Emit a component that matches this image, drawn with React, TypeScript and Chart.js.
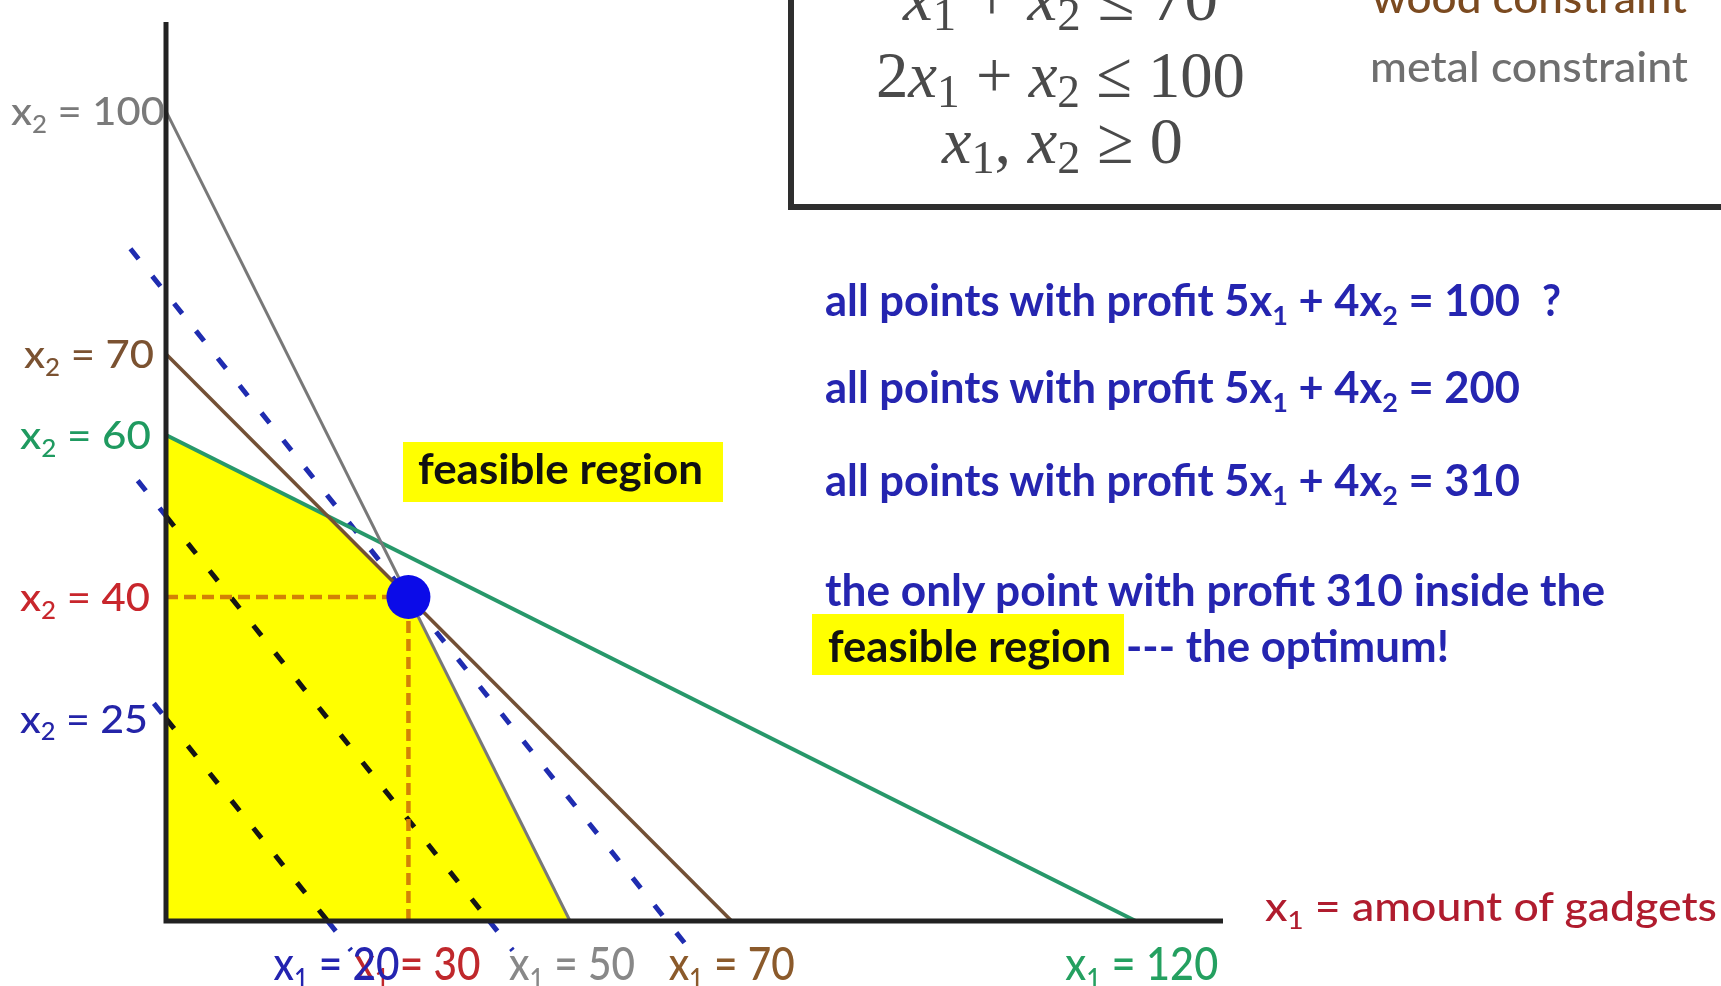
import React, { useEffect, useRef, useState } from "react";
import { Chart, registerables } from "chart.js";

Chart.register(...registerables);

const W = 1721;
const H = 986;

// ---- data (x1 = gadgets, x2) ----
const woodLine = [ { x: 0, y: 70 }, { x: 70, y: 0 } ];          // x1 + x2 <= 70
const metalLine = [ { x: 0, y: 100 }, { x: 50, y: 0 } ];        // 2x1 + x2 <= 100
const greenLine = [ { x: 0, y: 60 }, { x: 120, y: 0 } ];        // x1 + 2x2 <= 120
const feasibleTop = [ { x: 0, y: 60 }, { x: 20, y: 50 }, { x: 30, y: 40 }, { x: 50, y: 0 } ];
const optimum = [ { x: 30, y: 40 } ];
const profit100 = [ { x: -1.5, y: 26.875 }, { x: 0, y: 25 }, { x: 20, y: 0 }, { x: 22.9, y: -3.625 } ];
const profit200 = [ { x: -3.5, y: 54.375 }, { x: 0, y: 50 }, { x: 40, y: 0 }, { x: 42.9, y: -3.625 } ];
const profit310 = [ { x: -4.4, y: 83 }, { x: 64.4, y: -3 } ];
const optH = [ { x: 0, y: 40 }, { x: 30, y: 40 } ];
const optV = [ { x: 30, y: 0 }, { x: 30, y: 40 } ];

const yTickValues = [100, 70, 60, 40, 25];
const yTickColors = ["#7a7a7a", "#7b5231", "#1f9a60", "#c8262c", "#2424a8"];
const yTickRight = [165, 154, 151, 150, 148];
const yTickWidths = [154, 130, 131, 130, 128];

const xTickValues = [30, 50, 70, 120, 20];
const xTickColors = ["#c0282c", "#888888", "#8b5a2b", "#24a060", "#2424b0"];
const xTickOffsets = [9, 2, 0, 6, 9];
const xTickWidths = [126, 126, 126, 153, 126];

const X_MAX = 130.8;
const Y_MAX = 111.0;

const BLUE_TXT = "#2525b0";

type Seg = { t: string; sub?: boolean; it?: boolean };

function parse(s: string, math = false): Seg[] {
  const out: Seg[] = [];
  let buf = "";
  const flush = () => {
    if (!buf) return;
    if (math) {
      const parts = buf.match(/[a-z]+|[^a-z]+/g) || [];
      parts.forEach((p) => out.push({ t: p, it: /[a-z]/.test(p) }));
    } else out.push({ t: buf });
    buf = "";
  };
  for (let i = 0; i < s.length; i++) {
    if (s[i] === "_" && i + 1 < s.length) {
      flush();
      out.push({ t: s[i + 1], sub: true });
      i++;
    } else buf += s[i];
  }
  flush();
  return out;
}

function Txt(props: {
  x: number; y: number; size: number; width?: number; color: string; text: string;
  weight?: number; family?: string; anchor?: string; math?: boolean; subScale?: number; subDrop?: number;
}) {
  const { x, y, size, width, color, text, weight = 400, family = "Lato", anchor = "start", math = false,
    subScale = 0.62, subDrop = 0.2 } = props;
  const segs = parse(text, math);
  const drop = size * subDrop;
  let shifted = false;
  return (
    <text x={x} y={y} fontSize={size} fill={color} fontWeight={weight} fontFamily={family}
      textAnchor={anchor as any} textLength={width} lengthAdjust={width ? "spacingAndGlyphs" : undefined}
      style={{ whiteSpace: "pre" }}>
      {segs.map((s, i) => {
        if (s.sub) {
          shifted = true;
          return <tspan key={i} fontSize={size * subScale} dy={drop} fontStyle="normal">{s.t}</tspan>;
        }
        const dy = shifted ? -drop : undefined;
        shifted = false;
        return <tspan key={i} dy={dy} fontStyle={s.it ? "italic" : "normal"}>{s.t}</tspan>;
      })}
    </text>
  );
}

type Pos = { px: number[]; py: number[] };

export default function App() {
  const ref = useRef<HTMLCanvasElement>(null);
  const [pos, setPos] = useState<Pos | null>(null);

  useEffect(() => {
    document.body.style.margin = "0";
    const axesPlugin = {
      id: "axesLines",
      afterDatasetsDraw(chart: any) {
        const { ctx, chartArea } = chart;
        const x0 = chart.scales.x.getPixelForValue(0);
        const y0 = chart.scales.y.getPixelForValue(0);
        ctx.save();
        ctx.strokeStyle = "#222";
        ctx.lineWidth = 5;
        ctx.beginPath();
        ctx.moveTo(x0, chartArea.top);
        ctx.lineTo(x0, y0);
        ctx.lineTo(chartArea.right, y0);
        ctx.stroke();
        ctx.restore();
      },
    };
    const line = (data: any[], color: string, width: number, order: number, extra: any = {}) => ({
      data, borderColor: color, borderWidth: width, pointRadius: 0, pointHoverRadius: 0,
      fill: false, tension: 0, clip: false, order, ...extra,
    });
    const PROFIT_BLUE = "#1f2cb0";
    const PROFIT_IN = "#141414";
    const DASH = [13, 22];
    const chart = new Chart(ref.current as HTMLCanvasElement, {
      type: "line",
      data: {
        datasets: [
          {
            data: optimum, showLine: false, pointRadius: 22, pointHoverRadius: 22,
            backgroundColor: "#0b0be8", borderWidth: 0, clip: false, order: 0,
          } as any,
          line(optH, "#d38205", 4.5, 1, { borderDash: [12, 6] }),
          line(optV, "#d38205", 4.5, 1, { borderDash: [12, 6] }),
          line(metalLine, "#787878", 3, 2),
          line(woodLine, "#735035", 3.6, 3),
          line(greenLine, "#27986a", 4, 4),
          line(profit310, PROFIT_BLUE, 5, 5, { borderDash: DASH }),
          line(profit200, PROFIT_BLUE, 5, 6, {
            borderDash: DASH,
            segment: { borderColor: (c: any) => (c.p0DataIndex === 1 ? PROFIT_IN : PROFIT_BLUE) },
          }),
          line(profit100, PROFIT_BLUE, 5, 7, {
            borderDash: DASH,
            segment: { borderColor: (c: any) => (c.p0DataIndex === 1 ? PROFIT_IN : PROFIT_BLUE) },
          }),
          line(feasibleTop, "rgba(0,0,0,0)", 0, 10, { fill: "origin", backgroundColor: "#ffff00" }),
        ],
      },
      options: {
        animation: false,
        responsive: false,
        devicePixelRatio: 1,
        events: [],
        layout: { padding: { left: 166, top: 12, right: W - 1223, bottom: H - 921 } },
        plugins: { legend: { display: false }, tooltip: { enabled: false } },
        scales: {
          x: { type: "linear", min: 0, max: X_MAX, display: false },
          y: { type: "linear", min: 0, max: Y_MAX, display: false },
        },
      },
      plugins: [axesPlugin],
    } as any);
    setPos({
      px: xTickValues.map((v) => chart.scales.x.getPixelForValue(v)),
      py: yTickValues.map((v) => chart.scales.y.getPixelForValue(v)),
    });
    return () => chart.destroy();
  }, []);

  return (
    <div style={{ position: "fixed", left: 0, top: 0, width: W, height: H, background: "#fff", overflow: "hidden" }}>
      <canvas ref={ref} width={W} height={H} style={{ display: "block", width: W, height: H }} />
      <svg width={W} height={H} style={{ position: "absolute", left: 0, top: 0, pointerEvents: "none" }}>
        {/* constraint box */}
        <path d={`M 791 -10 L 791 207 L ${W + 10} 207`} fill="none" stroke="#2e2e2e" strokeWidth={6} />
        <Txt x={903} y={20} size={66} width={315} color="#4a4a4a" family="Liberation Serif" math text="x_1 + x_2 ≤ 70" subScale={0.7} subDrop={0.15} />
        <Txt x={876} y={97} size={66} width={369} color="#4a4a4a" family="Liberation Serif" math text="2x_1 + x_2 ≤ 100" subScale={0.7} subDrop={0.15} />
        <Txt x={942} y={163} size={66} width={241} color="#4a4a4a" family="Liberation Serif" math text="x_1, x_2 ≥ 0" subScale={0.7} subDrop={0.15} />
        <Txt x={1372} y={13} size={43} width={315} weight={500} color="#7b4a20" text="wood constraint" />
        <Txt x={1370} y={82} size={43} width={318} weight={500} color="#6f6f6f" text="metal constraint" />

        {/* right explanations */}
        <Txt x={825} y={316} size={43} width={695} weight={700} color={BLUE_TXT} text="all points with profit 5x_1 + 4x_2 = 100" />
        <Txt x={1542} y={316} size={43} width={19} weight={700} color={BLUE_TXT} text="?" />
        <Txt x={825} y={403} size={43} width={695} weight={700} color={BLUE_TXT} text="all points with profit 5x_1 + 4x_2 = 200" />
        <Txt x={825} y={496} size={43} width={695} weight={700} color={BLUE_TXT} text="all points with profit 5x_1 + 4x_2 = 310" />
        <Txt x={825} y={606} size={43} width={780} weight={700} color={BLUE_TXT} text="the only point with profit 310 inside the" />
        <rect x={812} y={614} width={312} height={61} fill="#ffff00" />
        <Txt x={828} y={662} size={43} width={283} weight={700} color="#111" text="feasible region" />
        <Txt x={1126} y={662} size={43} width={323} weight={700} color={BLUE_TXT} text="--- the optimum!" />

        {/* feasible region label */}
        <rect x={403} y={442} width={320} height={60} fill="#ffff00" />
        <Txt x={418} y={484} size={42} width={285} weight={700} color="#111" text="feasible region" />

        {/* x1 axis title */}
        <Txt x={1265} y={921} size={41} width={452} weight={500} color="#b01c2e" text="x_1 = amount of gadgets" />

        {pos && yTickValues.map((v, i) => (
          <Txt key={"y" + v} x={yTickRight[i]} y={pos.py[i] + 14} size={39} width={yTickWidths[i]}
            anchor="end" weight={500} color={yTickColors[i]} text={`x_2 = ${v}`} />
        ))}
        {pos && xTickValues.map((v, i) => (
          <Txt key={"x" + v} x={pos.px[i] + xTickOffsets[i]} y={980} size={47} width={xTickWidths[i]}
            anchor="middle" weight={500} color={xTickColors[i]} text={`x_1 = ${v}`} />
        ))}
      </svg>
    </div>
  );
}
